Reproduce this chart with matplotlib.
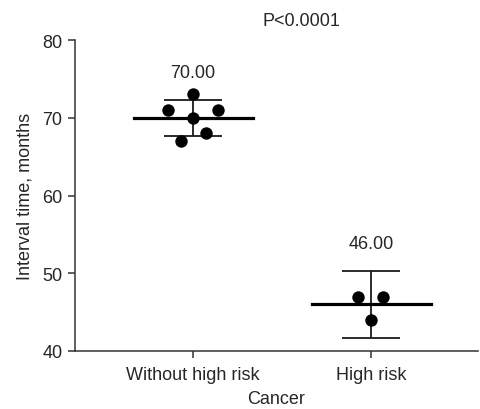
import numpy as np
import matplotlib
matplotlib.use("Agg")
from matplotlib import pyplot as plt

plt.rcParams['font.family'] = ['Liberation Sans', 'DejaVu Sans']

groups = ['Without high risk', 'High risk']
values = [[73, 71, 71, 70, 68, 67], [47, 47, 44]]
jitter = [[0.0, -0.14, 0.14, 0.0, 0.07, -0.07], [-0.075, 0.065, 0.0]]
means = [70.00, 46.00]
ci95 = [2.30, 4.30]
p_text = 'P<0.0001'

txt = '#262626'

fig = plt.figure(figsize=(4.8, 4.1), dpi=100)
ax = fig.add_axes([75 / 480, 1 - 352 / 410, 403 / 480, 311 / 410])

for i in range(len(groups)):
    xs = np.array(jitter[i]) + i
    ax.scatter(xs, values[i], s=80, color='black', zorder=3, linewidths=0)
    ax.plot([i - 0.334, i + 0.334], [means[i], means[i]], color='black', lw=2.3, zorder=2)
    ax.errorbar(i, means[i], yerr=ci95[i], fmt='none', ecolor='#1a1a1a',
                elinewidth=1.3, capsize=21, capthick=1.3, zorder=1)
    ax.text(i, means[i] + ci95[i] + 2.4, f'{means[i]:.2f}', ha='center', va='bottom',
            fontsize=13, color=txt)

ax.set_xlim(-0.663, 1.6)
ax.set_ylim(40, 80)
ax.set_xticks(range(len(groups)))
ax.set_xticklabels(groups)
ax.set_yticks([40, 50, 60, 70, 80])
ax.set_xlabel('Cancer', fontsize=13, color=txt, labelpad=5)
ax.set_ylabel('Interval time, months', fontsize=13, color=txt, labelpad=6)
ax.tick_params(axis='both', labelsize=13, labelcolor=txt, color='#333333',
               length=5, width=1.1, direction='out')
ax.tick_params(axis='y', pad=4)
ax.tick_params(axis='x', pad=6)
for side in ['top', 'right']:
    ax.spines[side].set_visible(False)
for side in ['left', 'bottom']:
    ax.spines[side].set_linewidth(1.1)
    ax.spines[side].set_color('#333333')

fig.text(301 / 480, 1 - 22 / 410, p_text, ha='center', va='center', fontsize=13, color=txt)

plt.savefig('out.png', dpi=100)
